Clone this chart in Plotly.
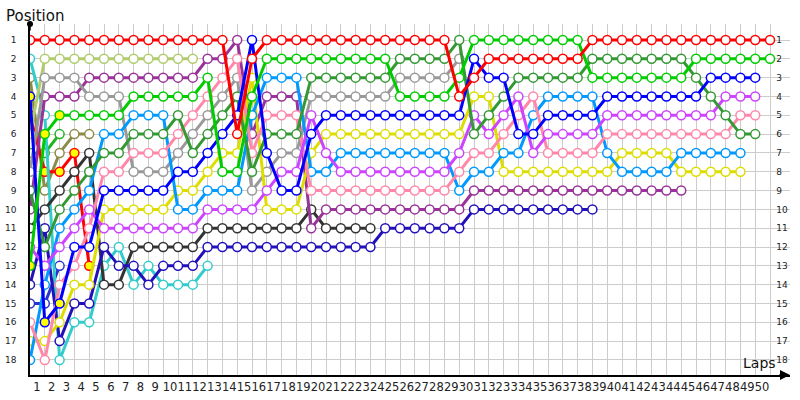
import plotly.graph_objects as go

# ---- data: position at each lap, index 0 = starting grid ----
red_a = [1, 1, 1, 1, 1, 1, 1, 1, 1, 1, 1, 1, 1, 1, 6, 2, 1, 1, 1, 1, 1, 1, 1, 1, 1, 1,
         1, 1, 1, 4, 3, 2, 2, 2, 2, 2, 2, 2, 1, 1, 1, 1, 1, 1, 1, 1, 1, 1, 1, 1, 1]
green = [13, 6, 5, 5, 5, 5, 5, 4, 4, 4, 4, 4, 3, 8, 8, 4, 2, 2, 2, 2, 2, 2, 2, 2, 2, 4,
         4, 4, 4, 3, 1, 1, 1, 1, 1, 1, 1, 1, 3, 3, 3, 3, 3, 3, 3, 2, 2, 2, 2, 2, 2]
dark_green = [9, 12, 10, 9, 8, 7, 7, 6, 6, 6, 5, 7, 6, 5, 4, 8, 6, 6, 6, 3, 3, 3, 3, 3, 3,
              2, 2, 2, 2, 1, 6, 5, 4, 3, 3, 3, 3, 3, 2, 2, 2, 2, 2, 2, 2, 3, 4, 5, 6, 6]
blue = [4, 16, 15, 12, 12, 9, 9, 9, 9, 9, 8, 8, 7, 6, 5, 1, 7, 9, 9, 6, 5, 5, 5, 5, 5,
        5, 5, 5, 5, 5, 2, 3, 3, 6, 6, 5, 5, 5, 5, 4, 4, 4, 4, 4, 4, 4, 3, 3, 3, 3]
violet = [12, 13, 12, 11, 10, 11, 11, 11, 11, 11, 11, 11, 10, 10, 10, 10, 9, 8, 8, 5, 7,
          8, 8, 8, 8, 8, 8, 8, 8, 7, 5, 6, 5, 4, 7, 6, 6, 6, 6, 5, 5, 5, 5, 5, 5, 5, 5, 4, 4, 4]
pink = [16, 18, 14, 13, 11, 8, 8, 7, 7, 7, 6, 5, 4, 3, 2, 7, 5, 5, 5, 9, 9, 9, 9, 9, 9,
        9, 9, 9, 9, 8, 7, 7, 6, 5, 4, 7, 7, 7, 7, 6, 6, 6, 6, 6, 6, 6, 6, 6, 5, 5]
yellow = [17, 17, 16, 14, 14, 10, 10, 10, 10, 10, 9, 9, 8, 7, 7, 3, 10, 10, 10, 7, 6, 6,
          6, 6, 6, 6, 6, 6, 6, 6, 4, 4, 8, 8, 8, 8, 8, 8, 8, 8, 7, 7, 7, 7, 8, 8, 8, 8, 8]
light_blue = [18, 14, 11, 10, 9, 6, 6, 5, 5, 5, 10, 10, 9, 9, 9, 5, 3, 3, 3, 8, 8, 7, 7,
              7, 7, 7, 7, 7, 7, 9, 8, 8, 7, 7, 5, 4, 4, 4, 4, 7, 8, 8, 8, 8, 7, 7, 7, 7, 7]
purple = [10, 4, 4, 4, 3, 3, 3, 3, 3, 3, 3, 3, 2, 2, 1, 6, 4, 4, 4, 11, 10, 10, 10, 10,
          10, 10, 10, 10, 10, 10, 9, 9, 9, 9, 9, 9, 9, 9, 9, 9, 9, 9, 9, 9, 9]
navy = [14, 11, 17, 15, 15, 12, 13, 13, 14, 13, 13, 13, 12, 12, 12, 12, 12, 12, 12, 12,
        12, 12, 12, 12, 11, 11, 11, 11, 11, 11, 10, 10, 10, 10, 10, 10, 10, 10, 10]
dark_grey = [11, 10, 9, 8, 7, 14, 14, 12, 12, 12, 12, 12, 11, 11, 11, 11, 11, 11, 11, 10,
             11, 11, 11, 11]
grey = [8, 3, 3, 3, 4, 4, 4, 8, 8, 8, 7, 6, 5, 4, 3, 9, 8, 7, 7, 4, 4, 4, 4, 4, 4, 3, 3,
        3, 3, 2]
light_olive = [6, 2, 2, 2, 2, 2, 2, 2, 2, 2, 2, 2]
turquoise = [2, 5, 18, 16, 16, 13, 12, 14, 13, 14, 14, 14, 13]
olive = [3, 9, 7, 6, 6]
red_b = [5, 8, 8, 7, 13]
green_b = [7, 7, 6]
navy_b = [15, 15, 13]

# laps drawn with a yellow marker fill
blue_marked = [0, 1, 2]
green_marked = [0, 1, 2]
red_b_marked = [0, 1, 2, 3, 4]

position_labels = [str(p) for p in range(1, 19)]
lap_labels = [""] + [str(k) for k in range(1, 51)]

# (series, colour, marked laps) drawn back to front
drivers = [
    (navy_b, "#2a33cc", []),
    (green_b, "#22b322", []),
    (olive, "#8c8c4a", []),
    (red_b, "#ff0000", red_b_marked),
    (turquoise, "#33cccc", []),
    (light_olive, "#b0cc6e", []),
    (dark_grey, "#333333", []),
    (navy, "#2211bb", []),
    (purple, "#993399", []),
    (grey, "#999999", []),
    (yellow, "#dddd00", []),
    (light_blue, "#0099ff", []),
    (pink, "#ff88aa", []),
    (violet, "#cc44ff", []),
    (dark_green, "#339933", []),
    (blue, "#0000ff", blue_marked),
    (green, "#00cc00", green_marked),
    (red_a, "#ff0000", []),
]

fig = go.Figure()
for series, colour, marked in drivers:
    laps = list(range(len(series)))
    fills = ["#ffff00" if i in marked else "#ffffff" for i in laps]
    fig.add_trace(go.Scatter(
        x=laps, y=series, mode="lines+markers",
        line=dict(color=colour, width=3),
        marker=dict(size=9, color=fills, line=dict(color=colour, width=1.5)),
        hoverinfo="skip", showlegend=False,
    ))

# invisible trace for the right-hand position labels
fig.add_trace(go.Scatter(x=[0], y=[1], yaxis="y2", mode="markers",
                         marker=dict(opacity=0), hoverinfo="skip", showlegend=False))

tick_font = dict(family="DejaVu Sans", size=9, color="#222222")
fig.update_layout(
    width=800, height=400,
    margin=dict(l=30, r=10, t=24, b=25),
    paper_bgcolor="white", plot_bgcolor="white",
    xaxis=dict(range=[0, 51.35], tickvals=list(range(51)), ticktext=lap_labels,
               tickangle=0, showgrid=True, gridcolor="#cccccc", gridwidth=1,
               zeroline=False, showline=True, linecolor="black", linewidth=2,
               ticks="", ticklabelshift=-8, automargin=False,
               tickfont=dict(family="DejaVu Sans", size=11.5, color="#222222")),
    yaxis=dict(range=[18.8, 0.15], tickvals=list(range(1, 19)), ticktext=position_labels,
               showgrid=True, gridcolor="#cccccc", gridwidth=1, zeroline=False,
               showline=True, linecolor="black", linewidth=1.5, ticks="",
               ticklabelstandoff=10, tickfont=tick_font, automargin=False),
    yaxis2=dict(range=[18.8, 0.15], tickvals=list(range(1, 19)), ticktext=position_labels,
                overlaying="y", side="right", anchor="free", position=0.974,
                showgrid=False, zeroline=False, showline=False, ticks="",
                ticklabelstandoff=5, tickfont=tick_font, automargin=False),
    annotations=[
        dict(text="Position", xref="paper", yref="paper", x=-0.034, y=1.023,
             xanchor="left", yanchor="middle", showarrow=False,
             font=dict(family="DejaVu Sans", size=15, color="#111111")),
        dict(text="Laps", xref="paper", yref="paper", x=0.936, y=0.034,
             xanchor="left", yanchor="middle", showarrow=False,
             font=dict(family="DejaVu Sans", size=14, color="#111111")),
        dict(text="", xref="paper", yref="paper", x=1, y=0, ax=-12, ay=0,
             showarrow=True, arrowhead=2, arrowsize=1, arrowwidth=2, arrowcolor="black"),
        dict(text="", xref="paper", yref="paper", x=0, y=1.0, ax=0, ay=8,
             showarrow=True, arrowhead=6, arrowsize=1, arrowwidth=1.5, arrowcolor="black"),
    ],
)

fig.write_html("out.html", config={"displayModeBar": False},
               post_script="document.body.style.margin='0';document.body.style.overflow='hidden';")
